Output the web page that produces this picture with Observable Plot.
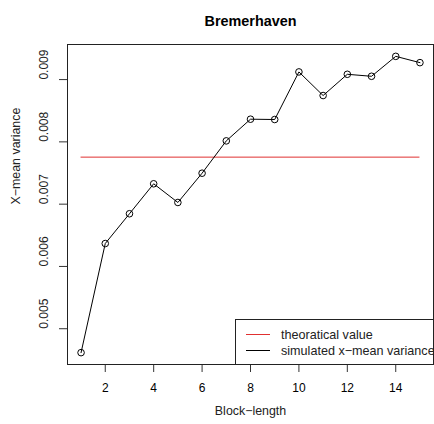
<!DOCTYPE html>
<html>
<head>
<meta charset="utf-8">
<script src="https://cdn.jsdelivr.net/npm/d3@7"></script>
<script src="https://cdn.jsdelivr.net/npm/@observablehq/plot@0.6"></script>
<style>
  html, body { margin: 0; padding: 0; background: white; overflow: hidden; }
</style>
</head>
<body>
<div id="chart"></div>
<script>
const title = "Bremerhaven";
const xLabel = "Block\u2212length";
const yLabel = "X\u2212mean variance";
const blockLength = [1, 2, 3, 4, 5, 6, 7, 8, 9, 10, 11, 12, 13, 14, 15];
const simulated = [0.004616, 0.006368, 0.006846, 0.007327, 0.007027, 0.007497, 0.008016, 0.008364, 0.008359, 0.009123, 0.008744, 0.009085, 0.009053, 0.009373, 0.009272];
const theoretical = 0.007755;
const xTicks = [2, 4, 6, 8, 10, 12, 14];
const yTicks = [0.005, 0.006, 0.007, 0.008, 0.009];
const legendLabels = ["theoratical value", "simulated x\u2212mean variance"];
const legendColors = ["#e03030", "black"];

const data = blockLength.map((b, i) => ({b, v: simulated[i]}));

// R-style 4% axis extension
const ext = (lo, hi) => { const d = (hi - lo) * 0.04; return [lo - d, hi + d]; };
const xDom = ext(d3.min(blockLength), d3.max(blockLength));
const yDom = ext(d3.min(simulated), d3.max(simulated));

const W = 434, H = 424, mL = 67, mR = 1, mT = 44, mB = 60;
const font = "'Liberation Sans', Arial, Helvetica, sans-serif";

const plot = Plot.plot({
  width: W, height: H,
  marginLeft: mL, marginRight: mR, marginTop: mT, marginBottom: mB,
  x: {domain: xDom},
  y: {domain: yDom},
  style: {fontFamily: font, fontSize: "12px", color: "black", background: "white"},
  marks: [
    Plot.ruleY([theoretical], {x1: d3.min(blockLength), x2: d3.max(blockLength), stroke: legendColors[0], strokeWidth: 1}),
    Plot.line(data, {x: "b", y: "v", stroke: "black", strokeWidth: 1}),
    Plot.dot(data, {x: "b", y: "v", r: 3.3, stroke: "black", strokeWidth: 1, fill: "none"}),
    Plot.axisX({ticks: xTicks, tickSize: 8, tickPadding: 11, label: null, stroke: "#333"}),
    Plot.axisY({ticks: yTicks, tickSize: 8, tickFormat: () => "", label: null, stroke: "#333"}),
    Plot.text(yTicks, {y: d => d, text: d => d3.format(".3f")(d), frameAnchor: "left", dx: -23, rotate: -90, fill: "#222"}),
    Plot.text([yLabel], {frameAnchor: "left", dx: -51.5, rotate: -90, fill: "#222", fontSize: 12.4}),
    Plot.text([xLabel], {frameAnchor: "bottom", dy: 50, fill: "#222", fontSize: 12.4}),
    Plot.text([title], {frameAnchor: "top", dy: -29, fontWeight: "bold", fontSize: 14.4, fill: "black"}),
    Plot.frame({stroke: "#222", strokeWidth: 1})
  ]
});

// legend (bottom-right inside plot region, like R's legend("bottomright"))
const svg = d3.select(plot);
const right = W - mR, bottom = H - mB;
const lw = 198, lh = 45;
const lg = svg.append("g").attr("font-family", font).attr("font-size", 12.6).attr("text-anchor", "start");
lg.append("rect")
  .attr("x", right - lw + 0.5).attr("y", bottom - lh + 0.5)
  .attr("width", lw).attr("height", lh)
  .attr("fill", "white").attr("stroke", "#222");
legendLabels.forEach((lab, i) => {
  const y = bottom - lh + 15.5 + i * 16;
  lg.append("line")
    .attr("x1", right - lw + 11).attr("x2", right - lw + 35)
    .attr("y1", y).attr("y2", y)
    .attr("stroke", legendColors[i]).attr("stroke-width", 1);
  lg.append("text")
    .attr("x", right - lw + 46).attr("y", y).attr("dy", "0.35em")
    .attr("text-anchor", "start")
    .attr("fill", "#222").text(lab);
});

document.getElementById("chart").appendChild(plot);
</script>
</body>
</html>
